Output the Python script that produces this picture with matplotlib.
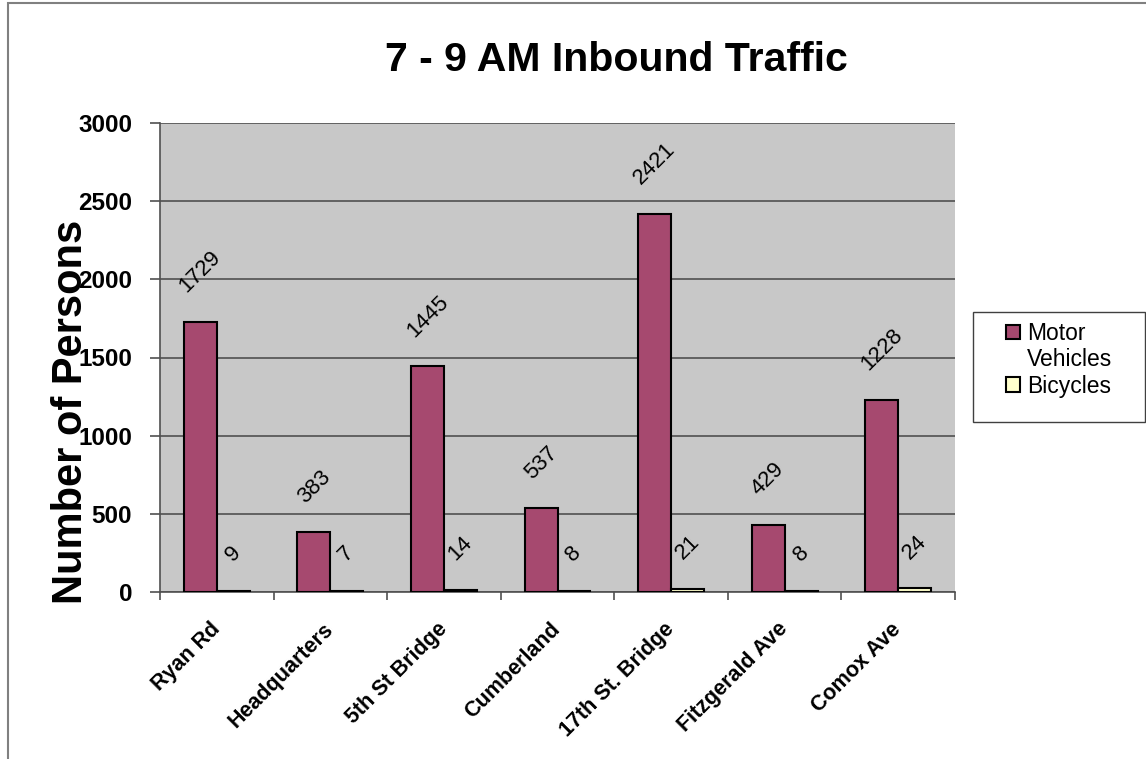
import matplotlib
matplotlib.use('Agg')
import matplotlib.pyplot as plt
from matplotlib.patches import Rectangle
import numpy as np

# Data
sites = ['Ryan Rd', 'Headquarters', '5th St Bridge', 'Cumberland',
         '17th St. Bridge', 'Fitzgerald Ave', 'Comox Ave']
motor = [1729, 383, 1445, 537, 2421, 429, 1228]
bikes = [9, 7, 14, 8, 21, 8, 24]

MOTOR_COLOR = '#A6496F'
BIKE_COLOR = '#FFFFCC'
PLOT_BG = '#C8C8C8'

plt.rcParams['font.family'] = ['Liberation Sans', 'DejaVu Sans']

fig = plt.figure(figsize=(11.46, 7.59), dpi=100)
fig.patch.set_facecolor('white')

# outer chart frame (partly cut off at right and bottom)
fig.patches.append(Rectangle((8 / 1146, -0.05), 1.2, 0.996 + 0.05,
                             transform=fig.transFigure, fill=False,
                             edgecolor='#808080', linewidth=1.5))

ax = fig.add_axes([160 / 1146, 167 / 759, 795 / 1146, 469 / 759])
ax.set_facecolor(PLOT_BG)

x = np.arange(len(sites))
w = 0.29
b1 = ax.bar(x - w / 2, motor, width=w, color=MOTOR_COLOR, edgecolor='black',
            linewidth=1.5, label='Motor Vehicles', zorder=3)
b2 = ax.bar(x + w / 2, bikes, width=w, color=BIKE_COLOR, edgecolor='black',
            linewidth=1.5, label='Bicycles', zorder=3)

for bars, vals in [(b1, motor), (b2, bikes)]:
    for r, v in zip(bars, vals):
        ax.annotate(f'{v}', (r.get_x() + r.get_width() / 2, r.get_height()),
                    xytext=(0, 18), textcoords='offset points',
                    ha='center', va='bottom', rotation=45, fontsize=16)

ax.set_xlim(-0.5, len(sites) - 0.5)
ax.set_ylim(0, 3000)
ax.set_yticks(np.arange(0, 3001, 500))
ax.yaxis.grid(True, color='#505050', linewidth=1.2, zorder=1)
ax.set_axisbelow(True)

# ticks at category boundaries, labels at centers
ax.set_xticks(np.arange(-0.5, len(sites) + 0.5, 1))
ax.set_xticklabels([])
ax.set_xticks(x, minor=True)
ax.set_xticklabels(sites, minor=True, rotation=45, ha='right', va='center',
                   rotation_mode='anchor', fontsize=15.5, fontweight='bold')
ax.tick_params(axis='x', which='minor', length=0, pad=24.5)
ax.tick_params(axis='x', which='major', length=6, width=1.2, color='#505050')
ax.tick_params(axis='y', length=7, width=1.2, color='#505050', pad=13)
for lbl in ax.get_yticklabels():
    lbl.set_fontsize(17.5)
    lbl.set_fontweight('bold')

for s in ['top', 'right']:
    ax.spines[s].set_visible(False)
ax.spines['left'].set_color('#505050')
ax.spines['bottom'].set_color('#505050')
ax.spines['left'].set_linewidth(1.2)
ax.spines['bottom'].set_linewidth(1.2)

ax.set_ylabel('Number of Persons', fontsize=30, fontweight='bold')
ax.yaxis.set_label_coords(-0.087, 0.384)

fig.text(616 / 1146, 1 - 60 / 759, '7 - 9 AM Inbound Traffic', ha='center',
         va='center', fontsize=29.5, fontweight='bold')

# legend: the "Motor Vehicles" label wraps onto a second row, swatch on the first
blank = Rectangle((0, 0), 1, 1, visible=False)
leg = fig.legend(handles=[b1, blank, b2], labels=['Motor', 'Vehicles', 'Bicycles'],
                 loc='upper left', bbox_to_anchor=(1006 / 1146, 1 - 322 / 759),
                 fontsize=16.5, frameon=False,
                 handlelength=0.61, handleheight=0.61, handletextpad=0.3,
                 borderpad=0, labelspacing=0.15, borderaxespad=0)
fig.patches.append(Rectangle((973 / 1146, 1 - 422 / 759), 172 / 1146, 110 / 759,
                             transform=fig.transFigure, fill=False,
                             edgecolor='#404040', linewidth=1.0))

plt.savefig('out.png', dpi=100, facecolor='white')
plt.close()
